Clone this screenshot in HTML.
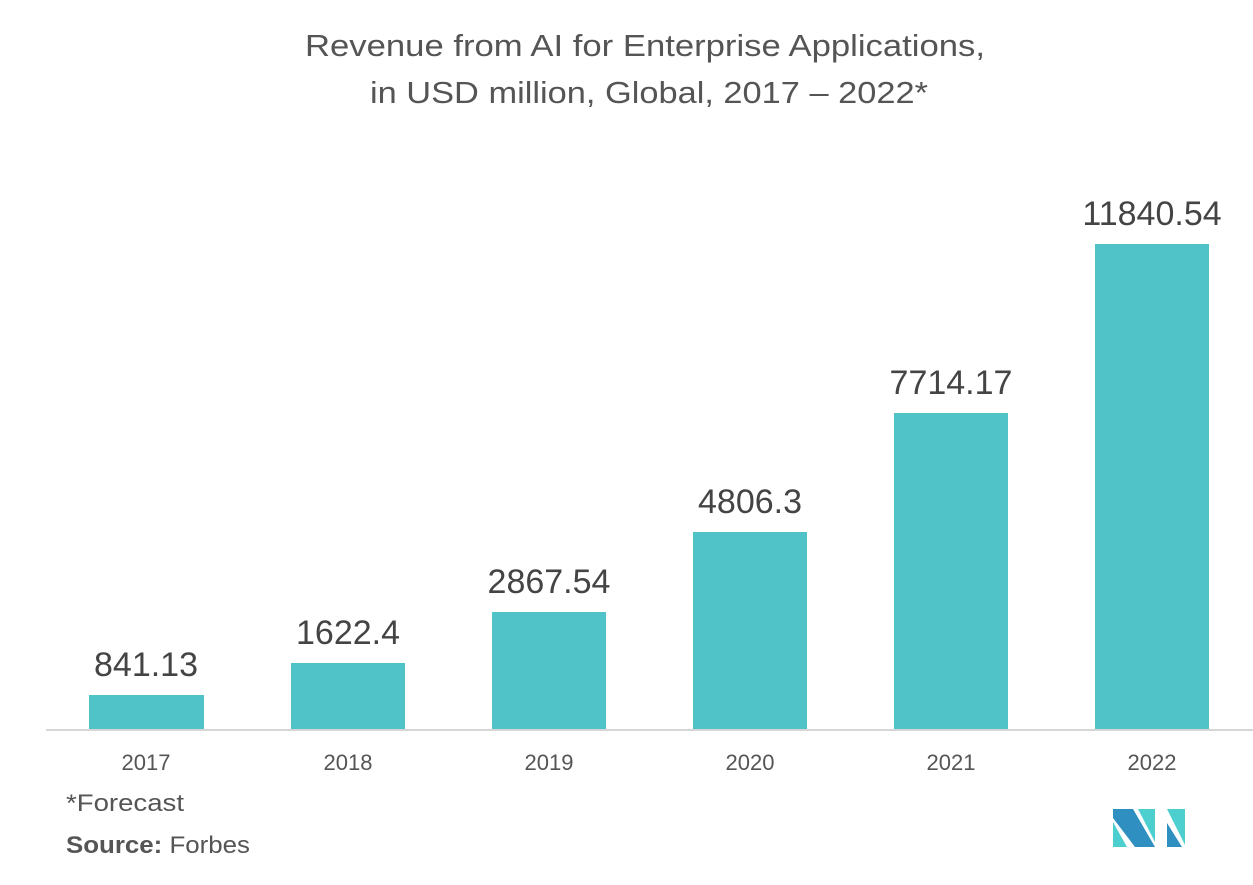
<!DOCTYPE html>
<html><head><meta charset="utf-8"><style>
body{margin:0;width:1253px;height:880px;background:#fff;overflow:hidden;font-family:"Liberation Sans",sans-serif}
</style></head><body>
<svg width="1253" height="880" xmlns="http://www.w3.org/2000/svg" font-family="Liberation Sans, sans-serif">
<text x="305" y="56" font-size="31" fill="#555" textLength="680" lengthAdjust="spacingAndGlyphs">Revenue from AI for Enterprise Applications,</text>
<text x="370" y="103" font-size="31" fill="#555" textLength="558" lengthAdjust="spacingAndGlyphs">in USD million, Global, 2017 – 2022*</text>
<line x1="46" y1="730" x2="1253" y2="730" stroke="#d6d6d6" stroke-width="2"/>
<g fill="#50c3c9">
<rect x="89" y="695" width="115" height="34"/>
<rect x="291" y="663" width="114" height="66"/>
<rect x="492" y="612" width="114" height="117"/>
<rect x="693" y="532" width="114" height="197"/>
<rect x="894" y="413" width="114" height="316"/>
<rect x="1095" y="244" width="114" height="485"/>
</g>
<g font-size="34" fill="#444" text-anchor="middle">
<text x="146" y="676">841.13</text>
<text x="348" y="644">1622.4</text>
<text x="549" y="593">2867.54</text>
<text x="750" y="513">4806.3</text>
<text x="951" y="394">7714.17</text>
<text x="1152" y="225">11840.54</text>
</g>
<g font-size="22" fill="#555" text-anchor="middle">
<text x="146" y="770">2017</text>
<text x="348" y="770">2018</text>
<text x="549" y="770">2019</text>
<text x="750" y="770">2020</text>
<text x="951" y="770">2021</text>
<text x="1152" y="770">2022</text>
</g>
<text x="66" y="811" font-size="24" fill="#555" textLength="118" lengthAdjust="spacingAndGlyphs">*Forecast</text>
<text x="66" y="853" font-size="24" fill="#555" textLength="184" lengthAdjust="spacingAndGlyphs"><tspan font-weight="bold">Source:</tspan> Forbes</text>
<polygon points="1113,822 1113,847 1127,847" fill="#4dcfd0"/>
<polygon points="1113,809 1133,809 1155,847 1135,847 1113,818" fill="#2e8fc0"/>
<polygon points="1138,809 1155,809 1155,842" fill="#4dcfd0"/>
<polygon points="1167,823 1182,847 1167,847" fill="#2e8fc0"/>
<polygon points="1167,809 1185,809 1185,845" fill="#4dcfd0"/>
</svg>
</body></html>
